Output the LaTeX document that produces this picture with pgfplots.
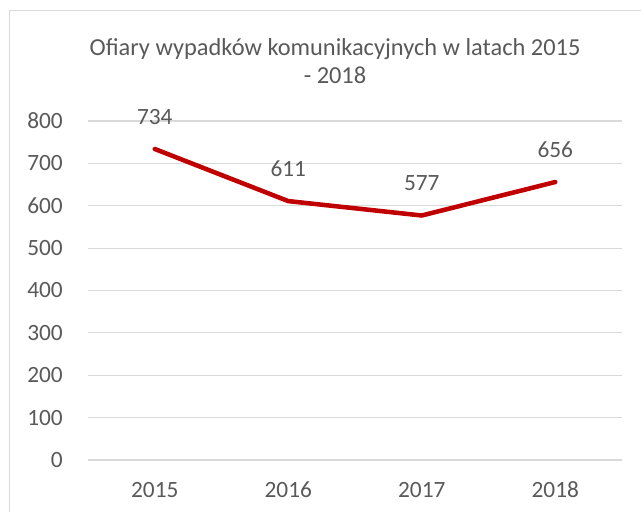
\documentclass[border=0pt]{standalone}
\usepackage{fontspec}
\setmainfont{Carlito}
\usepackage{pgfplots}
\pgfplotsset{compat=1.18}
\definecolor{linered}{HTML}{C00000}
\definecolor{txtgray}{HTML}{595959}
\definecolor{gridgray}{HTML}{D9D9D9}
\begin{document}
\begin{tikzpicture}
    \useasboundingbox (0,0) rectangle (480.75pt,384pt);
    % chart frame (cropped on right and bottom)
    \draw[gridgray, line width=1.1pt] (7.1pt,0pt) -- (7.1pt,376.1pt) -- (480.75pt,376.1pt);
    \node[font=\fontsize{18.3}{21}\selectfont, text=txtgray, align=center] at (251.25pt,338.25pt)
        {Ofiary wypadków komunikacyjnych w latach 2015\\- 2018};
    \begin{axis}[
        at={(66pt,39pt)}, anchor=south west,
        scale only axis,
        width=400.5pt, height=254.25pt,
        xmin=-0.5, xmax=3.5,
        ymin=0, ymax=800,
        xtick={0,1,2,3},
        xticklabels={2015,2016,2017,2018},
        ytick={0,100,...,800},
        axis line style={draw=none},
        major tick length=0pt,
        ymajorgrids,
        major grid style={draw=gridgray, line width=0.8pt},
        tick label style={font=\fontsize{17.5}{20}\selectfont, text=txtgray},
        /pgf/number format/assume math mode=true,
        yticklabel style={anchor=east, inner sep=0pt, xshift=-18.75pt},
        xticklabel style={anchor=center, inner sep=0pt, yshift=-22.5pt},
        nodes near coords,
        every node near coord/.append style={font=\fontsize{17.5}{20}\selectfont,
            text=txtgray, anchor=center, yshift=24pt},
        clip=false,
    ]
        \addplot[color=linered, line width=3.4pt, line join=round, line cap=round] coordinates {
            (0,734) (1,611) (2,577) (3,656)
        };
    \end{axis}
\end{tikzpicture}
\end{document}
